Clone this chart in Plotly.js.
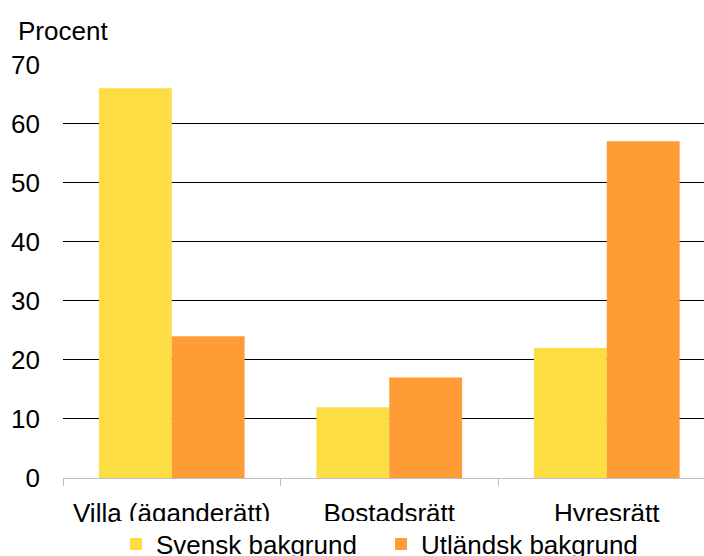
<!DOCTYPE html>
<html>
<head>
<meta charset="utf-8">
<script src="https://cdn.plot.ly/plotly-3.0.1.min.js"></script>
<style>html,body{margin:0;padding:0;background:#fff;}#chart{width:704px;height:556px;}</style>
</head>
<body>
<div id="chart"></div>
<script>
const categories = ["Villa (äganderätt)", "Bostadsrätt", "Hyresrätt"];
const svensk = [66, 12, 22];
const utlandsk = [24, 17, 57];
const seriesNames = ["Svensk bakgrund", "Utländsk bakgrund"];
const yTicks = [0, 10, 20, 30, 40, 50, 60, 70];

const font = {family: "Liberation Sans, Arial, sans-serif", size: 26, color: "#000"};

const data = [
  {type: "bar", name: seriesNames[0], x: categories, y: svensk, marker: {color: "#FDDD44"}},
  {type: "bar", name: seriesNames[1], x: categories, y: utlandsk, marker: {color: "#FF9C35"}}
];

const layout = {
  width: 704, height: 556,
  margin: {l: 63, r: 0, t: 64, b: 78, autoexpand: false},
  paper_bgcolor: "#fff", plot_bgcolor: "#fff",
  font: font,
  barmode: "group",
  bargap: 0.33,
  bargroupgap: 0,
  showlegend: true,
  legend: {orientation: "h", x: 116/704, xanchor: "left", xref: "container", y: 12/556, yref: "container", yanchor: "middle", font: font, itemwidth: 30, entrywidth: 220},
  xaxis: {
    type: "category",
    automargin: false,
    range: [-0.5, 2.447],
    showgrid: false,
    showline: true, linecolor: "#BFBFBF", linewidth: 1,
    ticks: "outside", tickson: "boundaries", ticklen: 7, tickcolor: "#BFBFBF",
    tickfont: font,
    ticklabelstandoff: 12
  },
  yaxis: {
    automargin: false,
    range: [0, 70.1],
    tickvals: yTicks,
    showgrid: true, gridcolor: "#000", gridwidth: 1,
    zeroline: false,
    showline: false,
    ticks: "",
    tickfont: font,
    ticklabelstandoff: 22
  },
  annotations: [
    {text: "Procent", xref: "paper", yref: "paper", x: -63/641 + 16/641, xanchor: "left", y: (478-31)/414, yanchor: "middle", showarrow: false, font: font}
  ]
};

Plotly.newPlot("chart", data, layout, {displayModeBar: false, staticPlot: true});
</script>
</body>
</html>
